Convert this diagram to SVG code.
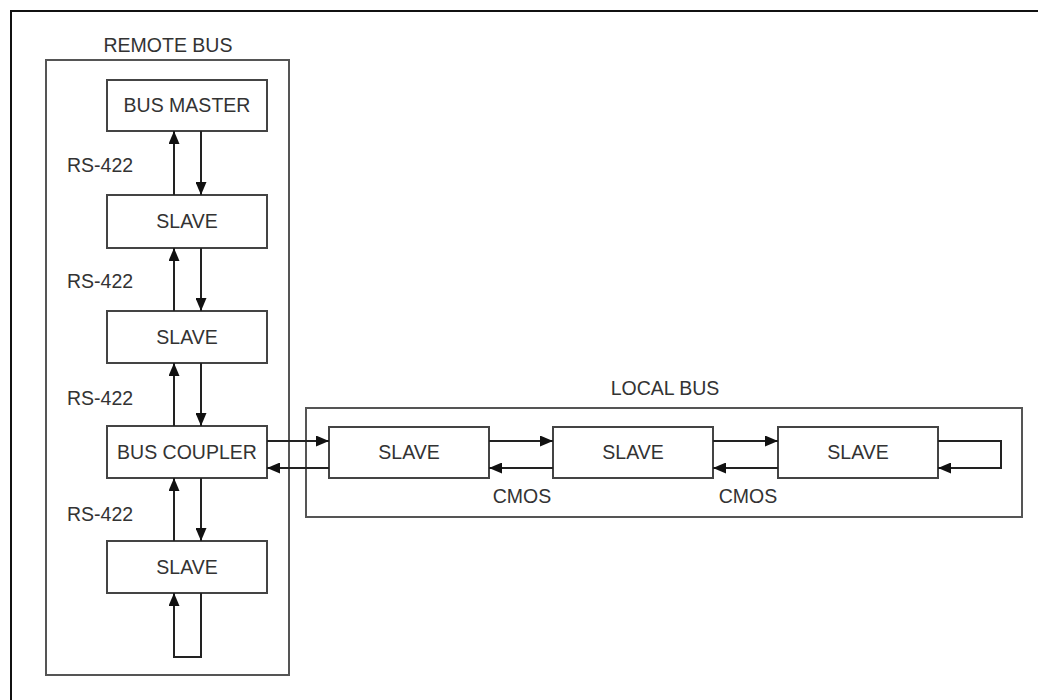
<svg xmlns="http://www.w3.org/2000/svg" width="1038" height="700" viewBox="0 0 1038 700">
<style>
.box{fill:#fff;stroke:#444;stroke-width:2}
.grp{fill:none;stroke:#555;stroke-width:2}
.t{font-family:"Liberation Sans",Arial,sans-serif;font-size:19.5px;fill:#333}
.c{text-anchor:middle}
.w{fill:none;stroke:#222;stroke-width:2}
</style>
<defs>
<marker id="ah" viewBox="0 0 13 11" refX="13" refY="5.5" markerWidth="13" markerHeight="11" markerUnits="userSpaceOnUse" orient="auto">
<path d="M0,0 L13,5.5 L0,11 Z" fill="#111"/>
</marker>
</defs>
<rect width="1038" height="700" fill="#fff"/>
<path d="M11,700 V11 H1038" fill="none" stroke="#111" stroke-width="2"/>
<g id="remote-bus">
<rect class="grp" x="46" y="60" width="243" height="615"/>
<text class="t c" x="168" y="52">REMOTE BUS</text>
</g>
<g id="local-bus">
<rect class="grp" x="306" y="408" width="716" height="109"/>
<text class="t c" x="665" y="395">LOCAL BUS</text>
</g>
<g id="bus-master"><rect class="box" x="107" y="80" width="160" height="51"/><text class="t c" x="187" y="112">BUS MASTER</text></g>
<g id="slave-r1"><rect class="box" x="107" y="195" width="160" height="53"/><text class="t c" x="187" y="228">SLAVE</text></g>
<g id="slave-r2"><rect class="box" x="107" y="311" width="160" height="52"/><text class="t c" x="187" y="344">SLAVE</text></g>
<g id="bus-coupler"><rect class="box" x="107" y="426" width="160" height="52"/><text class="t c" x="187" y="459">BUS COUPLER</text></g>
<g id="slave-r4"><rect class="box" x="107" y="541" width="160" height="52"/><text class="t c" x="187" y="574">SLAVE</text></g>
<g id="slave-l1"><rect class="box" x="329" y="427" width="160" height="51"/><text class="t c" x="409" y="459">SLAVE</text></g>
<g id="slave-l2"><rect class="box" x="553" y="427" width="160" height="51"/><text class="t c" x="633" y="459">SLAVE</text></g>
<g id="slave-l3"><rect class="box" x="778" y="427" width="160" height="51"/><text class="t c" x="858" y="459">SLAVE</text></g>
<g id="connectors">
<path class="w" d="M174,195 V131" marker-end="url(#ah)"/>
<path class="w" d="M201,131 V195" marker-end="url(#ah)"/>
<path class="w" d="M174,311 V248" marker-end="url(#ah)"/>
<path class="w" d="M201,248 V311" marker-end="url(#ah)"/>
<path class="w" d="M174,426 V363" marker-end="url(#ah)"/>
<path class="w" d="M201,363 V426" marker-end="url(#ah)"/>
<path class="w" d="M174,541 V478" marker-end="url(#ah)"/>
<path class="w" d="M201,478 V541" marker-end="url(#ah)"/>
<path class="w" d="M201,593 V657 H174 V593" marker-end="url(#ah)"/>
<path class="w" d="M267,441 H329" marker-end="url(#ah)"/>
<path class="w" d="M329,468 H267" marker-end="url(#ah)"/>
<path class="w" d="M489,441 H553" marker-end="url(#ah)"/>
<path class="w" d="M553,468 H489" marker-end="url(#ah)"/>
<path class="w" d="M713,441 H778" marker-end="url(#ah)"/>
<path class="w" d="M778,468 H713" marker-end="url(#ah)"/>
<path class="w" d="M938,441 H1001 V468 H938" marker-end="url(#ah)"/>
<text class="t" x="67" y="172">RS-422</text>
<text class="t" x="67" y="288">RS-422</text>
<text class="t" x="67" y="405">RS-422</text>
<text class="t" x="67" y="521">RS-422</text>
<text class="t c" x="522" y="503">CMOS</text>
<text class="t c" x="748" y="503">CMOS</text>
</g>
</svg>
